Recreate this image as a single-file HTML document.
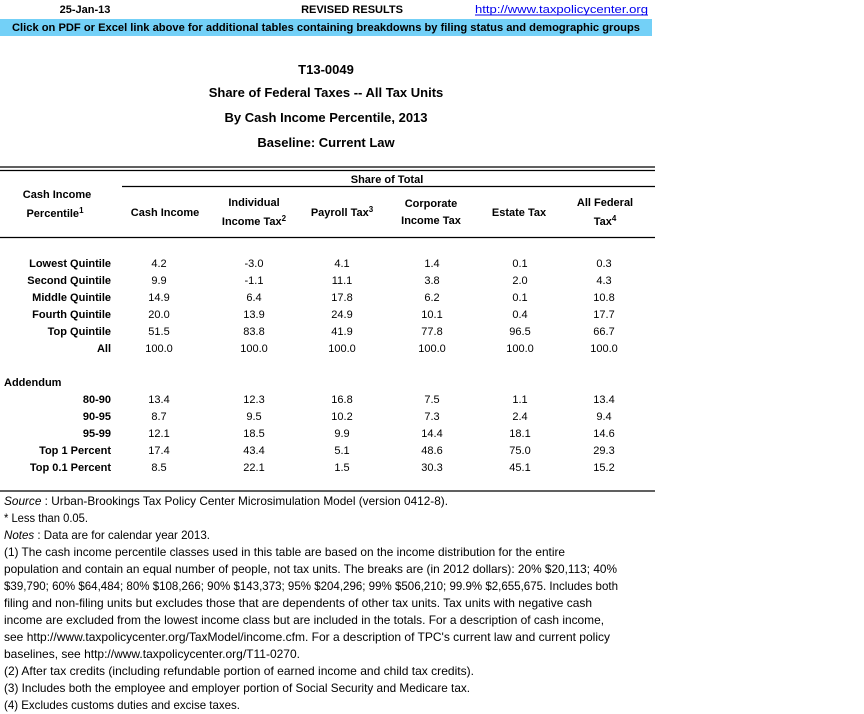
<!DOCTYPE html>
<html><head><meta charset="utf-8"><style>
html,body{margin:0;padding:0;background:#fff;}
svg{display:block;font-family:"Liberation Sans",sans-serif;}
</style></head><body>
<svg width="864" height="714" viewBox="0 0 864 714" xmlns="http://www.w3.org/2000/svg">
<rect x="0" y="0" width="864" height="714" fill="#fff"/>
<g font-size="11">
<text x="85" y="13" text-anchor="middle" font-weight="bold">25-Jan-13</text>
<text x="352" y="13" text-anchor="middle" font-weight="bold">REVISED RESULTS</text>
</g>
<text x="648" y="13" text-anchor="end" font-size="11" fill="#0000ee" textLength="173" lengthAdjust="spacingAndGlyphs">http://www.taxpolicycenter.org</text>
<line x1="475" y1="15" x2="648" y2="15" stroke="#0000ee" stroke-width="1"/>
<rect x="0" y="19" width="652" height="17" fill="#73d0f7"/>
<text x="326" y="31" text-anchor="middle" font-size="11" font-weight="bold" textLength="628" lengthAdjust="spacingAndGlyphs">Click on PDF or Excel link above for additional tables containing breakdowns by filing status and demographic groups</text>

<g font-size="13" font-weight="bold" text-anchor="middle">
<text x="326" y="74">T13-0049</text>
<text x="326" y="97">Share of Federal Taxes -- All Tax Units</text>
<text x="326" y="122">By Cash Income Percentile, 2013</text>
<text x="326" y="147">Baseline: Current Law</text>
</g>

<g stroke="#000" stroke-width="1.3">
<line x1="0" y1="167" x2="655" y2="167"/>
<line x1="0" y1="170.5" x2="655" y2="170.5"/>
<line x1="122" y1="186.5" x2="655" y2="186.5"/>
<line x1="0" y1="237.5" x2="655" y2="237.5"/>
<line x1="0" y1="491" x2="655" y2="491"/>
</g>

<g font-size="11" font-weight="bold" text-anchor="middle">
<text x="387" y="183">Share of Total</text>
<text x="57" y="198">Cash Income</text>
<text x="55" y="217">Percentile<tspan font-size="8" dy="-4">1</tspan></text>
<text x="165" y="216">Cash Income</text>
<text x="254" y="206">Individual</text>
<text x="254" y="225">Income Tax<tspan font-size="8" dy="-4">2</tspan></text>
<text x="342" y="216">Payroll Tax<tspan font-size="8" dy="-4">3</tspan></text>
<text x="431" y="207">Corporate</text>
<text x="431" y="224">Income Tax</text>
<text x="519" y="216">Estate Tax</text>
<text x="605" y="206">All Federal</text>
<text x="605" y="225">Tax<tspan font-size="8" dy="-4">4</tspan></text>
</g>

<g font-size="11" font-weight="bold" text-anchor="end">
<text x="111" y="267">Lowest Quintile</text>
<text x="111" y="284">Second Quintile</text>
<text x="111" y="301">Middle Quintile</text>
<text x="111" y="318">Fourth Quintile</text>
<text x="111" y="335">Top Quintile</text>
<text x="111" y="352">All</text>
<text x="111" y="403">80-90</text>
<text x="111" y="420">90-95</text>
<text x="111" y="437">95-99</text>
<text x="111" y="454">Top 1 Percent</text>
<text x="111" y="471">Top 0.1 Percent</text>
</g>
<text x="4" y="386" font-size="11" font-weight="bold">Addendum</text>

<g font-size="11" text-anchor="middle">
<g transform="translate(0,267)">
<text x="159">4.2</text><text x="254">-3.0</text><text x="342">4.1</text><text x="432">1.4</text><text x="520">0.1</text><text x="604">0.3</text></g>
<g transform="translate(0,284)">
<text x="159">9.9</text><text x="254">-1.1</text><text x="342">11.1</text><text x="432">3.8</text><text x="520">2.0</text><text x="604">4.3</text></g>
<g transform="translate(0,301)">
<text x="159">14.9</text><text x="254">6.4</text><text x="342">17.8</text><text x="432">6.2</text><text x="520">0.1</text><text x="604">10.8</text></g>
<g transform="translate(0,318)">
<text x="159">20.0</text><text x="254">13.9</text><text x="342">24.9</text><text x="432">10.1</text><text x="520">0.4</text><text x="604">17.7</text></g>
<g transform="translate(0,335)">
<text x="159">51.5</text><text x="254">83.8</text><text x="342">41.9</text><text x="432">77.8</text><text x="520">96.5</text><text x="604">66.7</text></g>
<g transform="translate(0,352)">
<text x="159">100.0</text><text x="254">100.0</text><text x="342">100.0</text><text x="432">100.0</text><text x="520">100.0</text><text x="604">100.0</text></g>
<g transform="translate(0,403)">
<text x="159">13.4</text><text x="254">12.3</text><text x="342">16.8</text><text x="432">7.5</text><text x="520">1.1</text><text x="604">13.4</text></g>
<g transform="translate(0,420)">
<text x="159">8.7</text><text x="254">9.5</text><text x="342">10.2</text><text x="432">7.3</text><text x="520">2.4</text><text x="604">9.4</text></g>
<g transform="translate(0,437)">
<text x="159">12.1</text><text x="254">18.5</text><text x="342">9.9</text><text x="432">14.4</text><text x="520">18.1</text><text x="604">14.6</text></g>
<g transform="translate(0,454)">
<text x="159">17.4</text><text x="254">43.4</text><text x="342">5.1</text><text x="432">48.6</text><text x="520">75.0</text><text x="604">29.3</text></g>
<g transform="translate(0,471)">
<text x="159">8.5</text><text x="254">22.1</text><text x="342">1.5</text><text x="432">30.3</text><text x="520">45.1</text><text x="604">15.2</text></g>
</g>

<g font-size="12">
<text x="4" y="505" textLength="444" lengthAdjust="spacingAndGlyphs"><tspan font-style="italic">Source</tspan> : Urban-Brookings Tax Policy Center Microsimulation Model (version 0412-8).</text>
<text x="4" y="522" textLength="84" lengthAdjust="spacingAndGlyphs">* Less than 0.05.</text>
<text x="4" y="539" textLength="206" lengthAdjust="spacingAndGlyphs"><tspan font-style="italic">Notes</tspan> : Data are for calendar year 2013.</text>
<text x="4" y="556" textLength="561" lengthAdjust="spacingAndGlyphs">(1) The cash income percentile classes used in this table are based on the income distribution for the entire</text>
<text x="4" y="573" textLength="613" lengthAdjust="spacingAndGlyphs">population and contain an equal number of people, not tax units. The breaks are (in 2012 dollars): 20% $20,113; 40%</text>
<text x="4" y="590" textLength="614" lengthAdjust="spacingAndGlyphs">$39,790; 60% $64,484; 80% $108,266; 90% $143,373; 95% $204,296; 99% $506,210; 99.9% $2,655,675. Includes both</text>
<text x="4" y="607" textLength="588" lengthAdjust="spacingAndGlyphs">filing and non-filing units but excludes those that are dependents of other tax units. Tax units with negative cash</text>
<text x="4" y="624" textLength="600" lengthAdjust="spacingAndGlyphs">income are excluded from the lowest income class but are included in the totals. For a description of cash income,</text>
<text x="4" y="641" textLength="606" lengthAdjust="spacingAndGlyphs">see http://www.taxpolicycenter.org/TaxModel/income.cfm. For a description of TPC's current law and current policy</text>
<text x="4" y="658" textLength="296" lengthAdjust="spacingAndGlyphs">baselines, see http://www.taxpolicycenter.org/T11-0270.</text>
<text x="4" y="675" textLength="470" lengthAdjust="spacingAndGlyphs">(2) After tax credits (including refundable portion of earned income and child tax credits).</text>
<text x="4" y="692" textLength="466" lengthAdjust="spacingAndGlyphs">(3) Includes both the employee and employer portion of Social Security and Medicare tax.</text>
<text x="4" y="709" textLength="236" lengthAdjust="spacingAndGlyphs">(4) Excludes customs duties and excise taxes.</text>
</g>
</svg>
</body></html>
